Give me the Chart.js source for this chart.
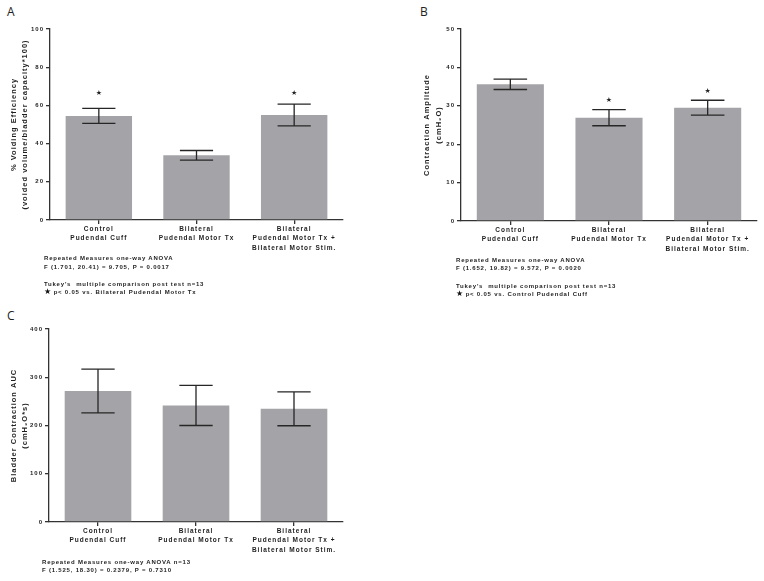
<!DOCTYPE html>
<html>
<head>
<meta charset="utf-8">
<script src="https://cdn.jsdelivr.net/npm/chart.js@4.4.1/dist/chart.umd.min.js"></script>
<style>
  body { margin: 0; background: #fff; }
  #page { position: relative; width: 764px; height: 581px; overflow: hidden; }
  canvas { position: absolute; }
  .letter { position: absolute; font-family: 'Open Sans', sans-serif; font-size: 12px; color: #222; line-height: 12px; }
  .note { position: absolute; font-family: 'Liberation Sans', Arial, sans-serif; font-weight: bold; font-size: 6px;
          letter-spacing: 0.8px; color: #1e1e1e; line-height: 8px; white-space: pre; }
  .note .star { font-family: 'DejaVu Sans', sans-serif; font-size: 8px; letter-spacing: 0; color: #111; }
</style>
</head>
<body>
<div id="page">
  <div class="letter" style="left:7px; top:6px;">A</div>
  <div class="letter" style="left:420px; top:6px;">B</div>
  <div class="letter" style="left:7px; top:310px;">C</div>

  <canvas id="chart-a" width="380" height="300" style="left:0; top:0;"></canvas>
  <canvas id="chart-b" width="384" height="300" style="left:380px; top:0;"></canvas>
  <canvas id="chart-c" width="380" height="281" style="left:0; top:300px;"></canvas>

  <div id="notes"></div>
</div>

<script>
// categorias (mismas para los 3 paneles)
const groups = [
    ['Control', 'Pudendal Cuff'],
    ['Bilateral', 'Pudendal Motor Tx'],
    ['Bilateral', 'Pudendal Motor Tx +', 'Bilateral Motor Stim.']
];

// A - voiding efficiency
const efficiencyMean = [54.5, 33.9, 55.0];
const efficiencySem = [3.9, 2.5, 5.7];
const efficiencyStars = [66.3, null, 66.3];

// B - contraction amplitude
const amplitudeMean = [35.6, 26.9, 29.5];
const amplitudeSem = [1.35, 2.1, 1.95];
const amplitudeStars = [null, 31.4, 33.9];

// C - AUC
const aucMean = [271.5, 241.5, 234.5];
const aucSem = [45.5, 41.5, 35];
const aucStars = [null, null, null];

const notesA = ['Repeated Measures one-way ANOVA', 'F (1.701, 20.41) = 9.705, P = 0.0017', 'Tukey\'s  multiple comparison post test n=13', 'p< 0.05 vs. Bilateral Pudendal Motor Tx'];
const notesB = ['Repeated Measures one-way ANOVA', 'F (1.652, 19.82) = 9.572, P = 0.0020', 'Tukey\'s  multiple comparison post test n=13', 'p< 0.05 vs. Control Pudendal Cuff'];
const notesC = ['Repeated Measures one-way ANOVA n=13', 'F (1.525, 18.30) = 0.2379, P = 0.7310'];

const BAR_COLOR = '#a4a4a8';
const INK = '#333';

// canvas letterSpacing se resetea cuando chart.js redimensiona, asi que lo ponemos antes de medir y de dibujar
const spacingPlugin = {
    id: 'spacing',
    beforeLayout(chart) { chart.ctx.letterSpacing = '1px'; },
    beforeDraw(chart) { chart.ctx.letterSpacing = '1px'; }
};

const errorBarPlugin = {
    id: 'errorBars',
    afterDatasetsDraw(chart) {
        const ds = chart.data.datasets[0];
        const meta = chart.getDatasetMeta(0);
        const yScale = chart.scales.y;
        const ctx = chart.ctx;
        ctx.save();
        ctx.strokeStyle = '#262626';
        ctx.lineWidth = 1.3;
        meta.data.forEach((bar, i) => {
            const m = ds.data[i], e = ds.errors[i];
            const top = yScale.getPixelForValue(m + e);
            const bot = yScale.getPixelForValue(m - e);
            const half = bar.width / 4;
            ctx.beginPath();
            ctx.moveTo(bar.x, top); ctx.lineTo(bar.x, bot);
            ctx.moveTo(bar.x - half, top); ctx.lineTo(bar.x + half, top);
            ctx.moveTo(bar.x - half, bot); ctx.lineTo(bar.x + half, bot);
            ctx.stroke();
            if (ds.stars[i] != null) {
                ctx.fillStyle = '#222';
                ctx.letterSpacing = '0px';
                ctx.font = '7px "DejaVu Sans"';
                ctx.textAlign = 'center';
                ctx.textBaseline = 'middle';
                ctx.fillText('\u2605', bar.x, yScale.getPixelForValue(ds.stars[i]));
            }
        });
        ctx.restore();
    }
};

function buildChart(canvasId, cfg) {
    return new Chart(document.getElementById(canvasId), {
        type: 'bar',
        data: {
            labels: groups,
            datasets: [{
                data: cfg.means,
                errors: cfg.errors,
                stars: cfg.stars,
                backgroundColor: BAR_COLOR,
                borderWidth: 0,
                categoryPercentage: 1,
                barPercentage: 0.68
            }]
        },
        options: {
            responsive: false,
            animation: false,
            layout: { padding: { top: cfg.top, right: cfg.right, left: cfg.left, bottom: 0 } },
            plugins: { legend: { display: false }, tooltip: { enabled: false } },
            scales: {
                x: {
                    afterFit: (s) => { s.height = cfg.xHeight; },
                    border: { display: true, color: INK, width: 1.3 },
                    grid: { display: true, offset: false, drawOnChartArea: false, drawTicks: true, tickLength: 4, color: INK, lineWidth: 1.3 },
                    ticks: {
                        autoSkip: false, maxRotation: 0, padding: 0, color: '#1e1e1e',
                        font: { family: 'Liberation Sans', weight: 'bold', size: 6.5, lineHeight: 1.5 }
                    }
                },
                y: {
                    min: 0, max: cfg.max,
                    afterFit: (s) => { s.width = cfg.yWidth; },
                    border: { display: true, color: INK, width: 1.3 },
                    grid: { display: true, drawOnChartArea: false, drawTicks: true, tickLength: 4, color: INK, lineWidth: 1.3 },
                    ticks: {
                        stepSize: cfg.step, padding: 2, color: '#1e1e1e',
                        font: { family: 'Liberation Sans', weight: 'bold', size: 6 }
                    },
                    title: {
                        display: true, text: cfg.title, color: '#1e1e1e',
                        padding: { top: cfg.titlePad, bottom: 0 },
                        font: { family: 'Liberation Sans', weight: 'bold', size: 7.5, lineHeight: cfg.titleLine }
                    }
                }
            }
        },
        plugins: [spacingPlugin, errorBarPlugin]
    });
}

buildChart('chart-a', {
    means: efficiencyMean, errors: efficiencySem, stars: efficiencyStars,
    max: 100, step: 20, title: ['% Voiding Efficiency', '(voided volume/bladder capacity*100)'],
    top: 29, right: 37, left: 0, yWidth: 50, xHeight: 80, titlePad: 8.5, titleLine: 11 / 7.5
});

buildChart('chart-b', {
    means: amplitudeMean, errors: amplitudeSem, stars: amplitudeStars,
    max: 50, step: 10, title: ['Contraction Amplitude', '(cmH\u2082O)'],
    top: 29, right: 7, left: 35, yWidth: 46, xHeight: 79, titlePad: 6, titleLine: 12 / 7.5
});

buildChart('chart-c', {
    means: aucMean, errors: aucSem, stars: aucStars,
    max: 400, step: 100, title: ['Bladder Contraction AUC', '(cmH\u2082O*s)'],
    top: 29, right: 37, left: 0, yWidth: 49, xHeight: 59, titlePad: 8.5, titleLine: 11 / 7.5
});

// notas de estadistica debajo de cada panel
function addNotes(lines, left, tops, starLast) {
    const box = document.getElementById('notes');
    lines.forEach((txt, i) => {
        const d = document.createElement('div');
        d.className = 'note';
        d.style.left = left + 'px';
        d.style.top = (tops[i] - 4) + 'px';
        if (starLast && i === lines.length - 1) {
            d.innerHTML = '<span class="star">\u2605</span> ' + txt;
        } else {
            d.textContent = txt;
        }
        box.appendChild(d);
    });
}

addNotes(notesA, 44, [258, 267, 284, 292], true);
addNotes(notesB, 456, [260, 268, 286, 294], true);
addNotes(notesC, 42, [562, 570], false);
</script>
</body>
</html>
